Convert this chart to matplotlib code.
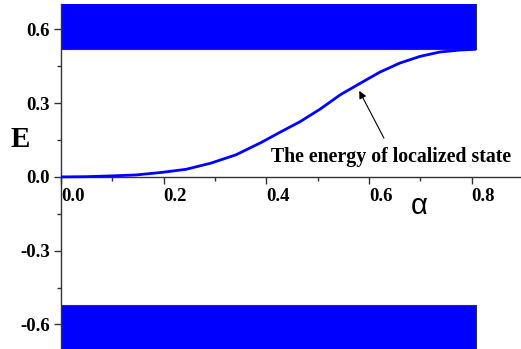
import numpy as np
import matplotlib
matplotlib.use('Agg')
import matplotlib.pyplot as plt
from matplotlib.patches import Rectangle
from matplotlib.ticker import MultipleLocator

# curve of the localized state energy
alpha = [0.0, 0.049, 0.097, 0.146, 0.195, 0.244, 0.292, 0.341, 0.390, 0.427,
         0.466, 0.505, 0.544, 0.583, 0.621, 0.660, 0.699, 0.738, 0.777, 0.807]
energy = [0.0, 0.001, 0.004, 0.008, 0.018, 0.031, 0.056, 0.090, 0.140, 0.182,
          0.225, 0.276, 0.334, 0.381, 0.426, 0.463, 0.490, 0.508, 0.516, 0.519]

# band edges
band_edge = 0.52
band_top = 0.71
band_end = 0.808

xticks = [0.0, 0.2, 0.4, 0.6, 0.8]
yticks = [-0.6, -0.3, 0.0, 0.3, 0.6]

plt.rcParams['font.family'] = ['Liberation Serif', 'DejaVu Serif']
plt.rcParams['font.weight'] = 'bold'

fig = plt.figure(figsize=(5.21, 3.49), dpi=100)
ax = fig.add_axes([0.117, 0.0, 0.882, 0.989])

ax.add_patch(Rectangle((0, band_edge), band_end, band_top - band_edge,
                       facecolor='#0000ff', edgecolor='#333333', linewidth=0.8, zorder=2))
ax.add_patch(Rectangle((0, -band_top), band_end, band_top - band_edge,
                       facecolor='#0000ff', edgecolor='#333333', linewidth=0.8, zorder=2))

ax.plot(alpha, energy, color='#0000ff', linewidth=2, zorder=3,
        solid_joinstyle='round', solid_capstyle='round')

ax.set_xlim(0, 0.895)
ax.set_ylim(-0.7, 0.704)

ax.spines['top'].set_visible(False)
ax.spines['right'].set_visible(False)
ax.spines['bottom'].set_position(('data', 0))
for s in ['left', 'bottom']:
    ax.spines[s].set_linewidth(1.0)
    ax.spines[s].set_color('#333333')

ax.set_xticks(xticks)
ax.set_yticks(yticks)
ax.xaxis.set_minor_locator(MultipleLocator(0.1))
ax.yaxis.set_minor_locator(MultipleLocator(0.15))
ax.tick_params(axis='both', which='major', direction='out', length=5, width=1,
               labelsize=13.5, pad=3, color='#333333')
ax.tick_params(axis='both', which='minor', direction='out', length=3, width=1,
               color='#333333')
ax.set_xticklabels(['0.0', '0.2', '0.4', '0.6', '0.8'], fontweight='bold', ha='left')
ax.set_yticklabels(['-0.6', '-0.3', '0.0', '0.3', '0.6'], fontweight='bold')

ax.text(-0.080, 0.151, 'E', fontsize=21, fontweight='bold', ha='center', va='center',
        clip_on=False)
ax.text(0.697, -0.118, 'α', fontsize=21, fontweight='normal', ha='center', va='center',
        fontfamily=['Liberation Sans', 'DejaVu Sans'])

ax.text(0.642, 0.08, 'The energy of localized state', fontsize=14.3, fontweight='bold',
        ha='center', va='center')
ax.annotate('', xy=(0.581, 0.350), xytext=(0.629, 0.158),
            arrowprops=dict(arrowstyle='-|>', color='black', lw=0.8,
                            mutation_scale=11, shrinkA=0, shrinkB=0))

fig.savefig('out.png', dpi=100)
